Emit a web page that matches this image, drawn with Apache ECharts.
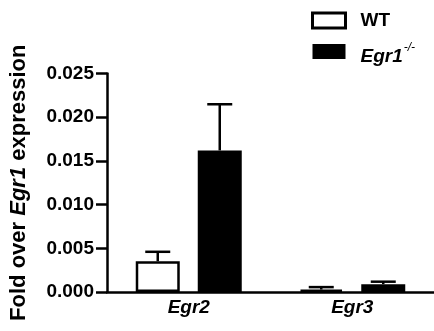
<!DOCTYPE html>
<html>
<head>
<meta charset="utf-8">
<style>html,body{margin:0;padding:0;background:#fff}#c{width:434px;height:331px}</style>
<script src="https://cdn.jsdelivr.net/npm/echarts@6/dist/echarts.min.js"></script>
</head>
<body>
<div id="c"></div>
<script>
var categories = ['Egr2', 'Egr3'];
var seriesNames = ['WT', 'Egr1'];
var wtMean = [0.00352, 0.00028];
var wtErrTop = [0.0046, 0.00056];
var koMean = [0.0162, 0.0009];
var koErrTop = [0.02148, 0.00118];
var yTicks = [0, 0.005, 0.010, 0.015, 0.020, 0.025];

var FONT = 'Liberation Sans, Arial, sans-serif';
var BAR_W = 44, BAR_GAP = 18;
var chart = echarts.init(document.getElementById('c'));

function errSeries(means, tops, sideSign) {
  return {
    type: 'custom',
    silent: true,
    z: 3,
    data: means.map(function (m, i) { return [i, m, tops[i]]; }),
    renderItem: function (params, api) {
      var p0 = api.coord([api.value(0), api.value(1)]);
      var p1 = api.coord([api.value(0), api.value(2)]);
      var x = p0[0] + sideSign * (BAR_W / 2 + BAR_GAP / 2);
      var cap = 12.5;
      var st = { stroke: '#000', lineWidth: 2.5 };
      return { type: 'group', children: [
        { type: 'line', shape: { x1: x, y1: p0[1], x2: x, y2: p1[1] }, style: st },
        { type: 'line', shape: { x1: x - cap, y1: p1[1], x2: x + cap, y2: p1[1] }, style: st }
      ]};
    }
  };
}

chart.setOption({
  animation: false,
  grid: { left: 107, top: 73.5, width: 332, height: 218.5, containLabel: false },
  legend: {
    orient: 'vertical', left: 306, top: 6, itemWidth: 33, itemHeight: 15, itemGap: 12,
    icon: 'rect',
    data: [
      { name: 'WT', itemStyle: { color: '#fff', borderColor: '#000', borderWidth: 3 } },
      { name: 'Egr1', itemStyle: { color: '#000', borderColor: '#000', borderWidth: 0 } }
    ],
    formatter: function (n) { return n === 'WT' ? '{b|WT}' : '{i|Egr1}{s|-/-}'; },
    textStyle: {
      padding: [0, 0, 0, 10],
      rich: {
        b: { fontFamily: FONT, fontWeight: 'bold', fontSize: 19, color: '#000' },
        i: { fontFamily: FONT, fontWeight: 'bold', fontStyle: 'italic', fontSize: 19, color: '#000', padding: [10, 0, 0, 0] },
        s: { fontFamily: FONT, fontStyle: 'italic', fontSize: 12, color: '#000', padding: [0, 0, 7, 1] }
      }
    }
  },
  xAxis: {
    type: 'category', data: categories,
    axisLine: { lineStyle: { color: '#000', width: 2.5 } },
    axisTick: { alignWithLabel: true, length: 7, lineStyle: { color: '#000', width: 2.5 } },
    axisLabel: { color: '#000', fontFamily: FONT, fontWeight: 'bold', fontStyle: 'italic', fontSize: 19, margin: 6 }
  },
  yAxis: {
    type: 'value', min: 0, max: 0.025, interval: 0.005,
    name: 'Fold over {i|Egr1} expression', nameLocation: 'middle', nameGap: 77, nameRotate: 90,
    nameTextStyle: { color: '#000', fontFamily: FONT, fontWeight: 'bold', fontSize: 22,
      rich: { i: { fontFamily: FONT, fontWeight: 'bold', fontStyle: 'italic', fontSize: 22, color: '#000' } } },
    splitLine: { show: false },
    axisLine: { show: true, lineStyle: { color: '#000', width: 2.5 } },
    axisTick: { show: true, length: 11, lineStyle: { color: '#000', width: 2.5 } },
    axisLabel: { color: '#000', fontFamily: FONT, fontWeight: 'bold', fontSize: 19, margin: 13,
      formatter: function (v) { return v.toFixed(3); } }
  },
  series: [
    { name: seriesNames[0], type: 'bar', data: wtMean, barWidth: BAR_W, barGap: (BAR_GAP / BAR_W * 100) + '%',
      itemStyle: { color: '#fff', borderColor: '#000', borderWidth: 2.5 } },
    { name: seriesNames[1], type: 'bar', data: koMean, barWidth: BAR_W,
      itemStyle: { color: '#000', borderColor: '#000', borderWidth: 0 } },
    errSeries(wtMean, wtErrTop, -1),
    errSeries(koMean, koErrTop, 1)
  ]
});
</script>
</body>
</html>
